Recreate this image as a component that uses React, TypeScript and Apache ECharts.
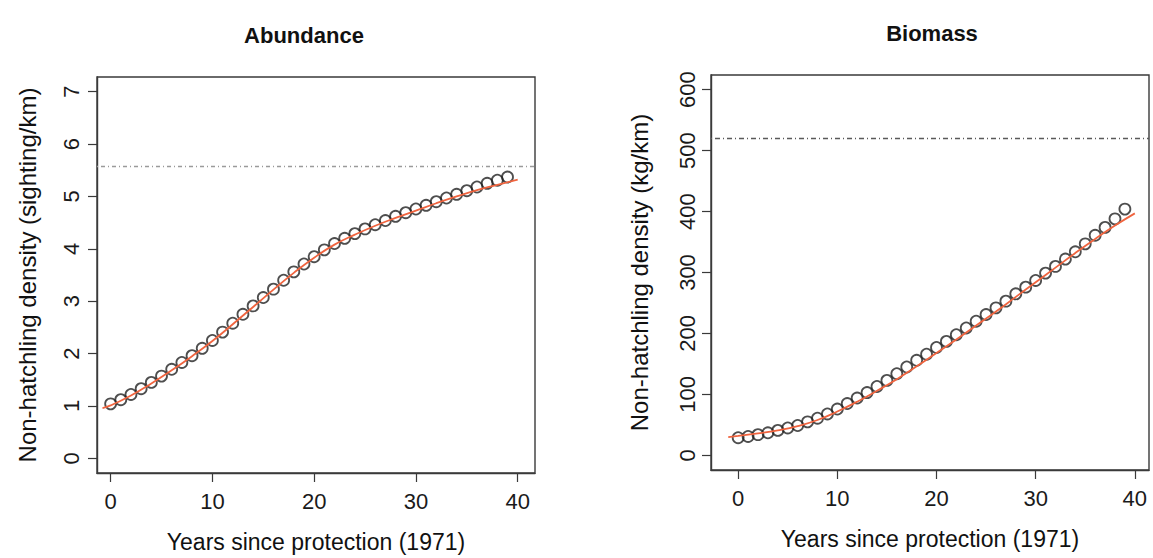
import React, { useEffect, useRef } from "react";
import * as echarts from "echarts";

const years = [0, 1, 2, 3, 4, 5, 6, 7, 8, 9, 10, 11, 12, 13, 14, 15, 16, 17, 18, 19, 20, 21, 22, 23, 24, 25, 26, 27, 28, 29, 30, 31, 32, 33, 34, 35, 36, 37, 38, 39];
const abundance = [1.04, 1.12, 1.22, 1.33, 1.45, 1.57, 1.7, 1.83, 1.96, 2.1, 2.25, 2.41, 2.58, 2.75, 2.91, 3.07, 3.23, 3.4, 3.56, 3.71, 3.85, 3.98, 4.1, 4.2, 4.29, 4.38, 4.46, 4.54, 4.62, 4.69, 4.76, 4.83, 4.9, 4.97, 5.04, 5.11, 5.18, 5.25, 5.31, 5.37];
const biomass = [29, 31, 34, 37, 41, 45, 49, 55, 61, 68, 76, 85, 94, 103, 113, 123, 134, 145, 156, 166, 177, 187, 198, 209, 220, 231, 242, 253, 265, 276, 287, 299, 310, 322, 334, 347, 361, 374, 388, 404];

const abundanceFitYears = [-0.8, 0, 2, 4, 6, 8, 10, 12, 14, 16, 18, 20, 22, 24, 26, 28, 30, 32, 34, 36, 38, 40];
const abundanceFit = [0.96, 1.01, 1.2, 1.43, 1.68, 1.95, 2.24, 2.56, 2.89, 3.22, 3.54, 3.83, 4.08, 4.27, 4.44, 4.59, 4.73, 4.87, 5.0, 5.12, 5.22, 5.32];
const biomassFitYears = [-1, 0, 2, 4, 6, 8, 10, 12, 14, 16, 18, 20, 22, 24, 26, 28, 30, 32, 34, 36, 38, 40];
const biomassFit = [30, 32, 36, 41, 48, 58, 72, 88, 106, 125, 146, 168, 190, 213, 236, 260, 284, 308, 332, 355, 377, 397];

const abundanceRef = 5.58;
const biomassRef = 520;

const xTicks = [0, 10, 20, 30, 40];
const abundanceTicks = [0, 1, 2, 3, 4, 5, 6, 7];
const biomassTicks = [0, 100, 200, 300, 400, 500, 600];

const FONT = "'Liberation Sans', Arial, Helvetica, sans-serif";

function pairs(xs: number[], ys: number[]) {
  return xs.map((x, i) => [x, ys[i]]);
}

export default function App() {
  const ref = useRef<HTMLDivElement>(null);
  useEffect(() => {
    if (!ref.current) return;
    const chart = echarts.init(ref.current, undefined, { renderer: "svg" });
    const axisColor = "#3a3a3a";
    const mkX = (gi: number, min: number, max: number) => ({
      type: "value",
      gridIndex: gi,
      min,
      max,
      axisLine: { show: true, onZero: false, lineStyle: { color: axisColor, width: 1.4 } },
      axisTick: { show: true, customValues: xTicks, length: 9, lineStyle: { color: axisColor, width: 1.2 } },
      axisLabel: { customValues: xTicks, fontSize: 22, color: "#1a1a1a", fontFamily: FONT, margin: 17 },
      splitLine: { show: false },
      name: "Years since protection (1971)",
      nameLocation: "middle",
      nameGap: 57,
      nameTextStyle: { fontSize: 23, color: "#111", fontFamily: FONT },
    });
    const mkY = (gi: number, min: number, max: number, ticks: number[], name: string, margin: number, nameGap: number) => ({
      type: "value",
      gridIndex: gi,
      min,
      max,
      axisLine: { show: true, onZero: false, lineStyle: { color: axisColor, width: 1.4 } },
      axisTick: { show: true, customValues: ticks, length: 9, lineStyle: { color: axisColor, width: 1.2 } },
      axisLabel: { customValues: ticks, fontSize: 22, color: "#1a1a1a", fontFamily: FONT, rotate: 90, margin },
      splitLine: { show: false },
      name,
      nameLocation: "middle",
      nameRotate: 90,
      nameGap,
      nameTextStyle: { fontSize: 24, color: "#111", fontFamily: FONT },
    });
    const scatterStyle = {
      color: "rgba(0,0,0,0)",
      borderColor: "#222222",
      borderWidth: 1.8,
    };
    const fitStyle = { color: "#f0643f", width: 1.8 };
    chart.setOption({
      animation: false,
      backgroundColor: "#ffffff",
      graphic: [
        {
          type: "text",
          x: 304,
          y: 35,
          style: { text: "Abundance", align: "center", verticalAlign: "middle", fill: "#111", font: `bold 22px ${FONT}` },
        },
        {
          type: "text",
          x: 932,
          y: 33,
          style: { text: "Biomass", align: "center", verticalAlign: "middle", fill: "#111", font: `bold 22px ${FONT}` },
        },
      ],
      grid: [
        { left: 97, top: 77, width: 438, height: 396, show: true, borderColor: axisColor, borderWidth: 1.4, backgroundColor: "transparent", outerBoundsMode: "none", containLabel: false },
        { left: 711, top: 75, width: 438, height: 395, show: true, borderColor: axisColor, borderWidth: 1.4, backgroundColor: "transparent", outerBoundsMode: "none", containLabel: false },
      ],
      xAxis: [mkX(0, -1.34, 41.7), mkX(1, -2.74, 41.43)],
      yAxis: [
        mkY(0, -0.28, 7.28, abundanceTicks, "Non-hatchling density (sighting/km)", 15, 58),
        mkY(1, -24, 624, biomassTicks, "Non-hatchling density (kg/km)", 13, 60),
      ],
      series: [
        {
          type: "scatter",
          xAxisIndex: 0,
          yAxisIndex: 0,
          symbol: "circle",
          symbolSize: 11,
          itemStyle: scatterStyle,
          data: pairs(years, abundance),
          z: 2,
        },
        {
          type: "line",
          xAxisIndex: 0,
          yAxisIndex: 0,
          showSymbol: false,
          smooth: true,
          lineStyle: fitStyle,
          data: pairs(abundanceFitYears, abundanceFit),
          z: 3,
          markLine: {
            silent: true,
            symbol: ["none", "none"],
            label: { show: false },
            lineStyle: { color: "#9a9a9a", width: 1.3, type: [1, 3, 4, 3] },
            data: [{ yAxis: abundanceRef }],
          },
        },
        {
          type: "scatter",
          xAxisIndex: 1,
          yAxisIndex: 1,
          symbol: "circle",
          symbolSize: 11,
          itemStyle: scatterStyle,
          data: pairs(years, biomass),
          z: 2,
        },
        {
          type: "line",
          xAxisIndex: 1,
          yAxisIndex: 1,
          showSymbol: false,
          smooth: true,
          lineStyle: fitStyle,
          data: pairs(biomassFitYears, biomassFit),
          z: 3,
          markLine: {
            silent: true,
            symbol: ["none", "none"],
            label: { show: false },
            lineStyle: { color: "#5a5a5a", width: 1.3, type: [1, 3, 5, 3] },
            data: [{ yAxis: biomassRef }],
          },
        },
      ],
    });
    return () => chart.dispose();
  }, []);
  return (
    <div
      ref={ref}
      style={{ position: "fixed", left: 0, top: 0, width: 1153, height: 558, background: "#fff" }}
    />
  );
}
